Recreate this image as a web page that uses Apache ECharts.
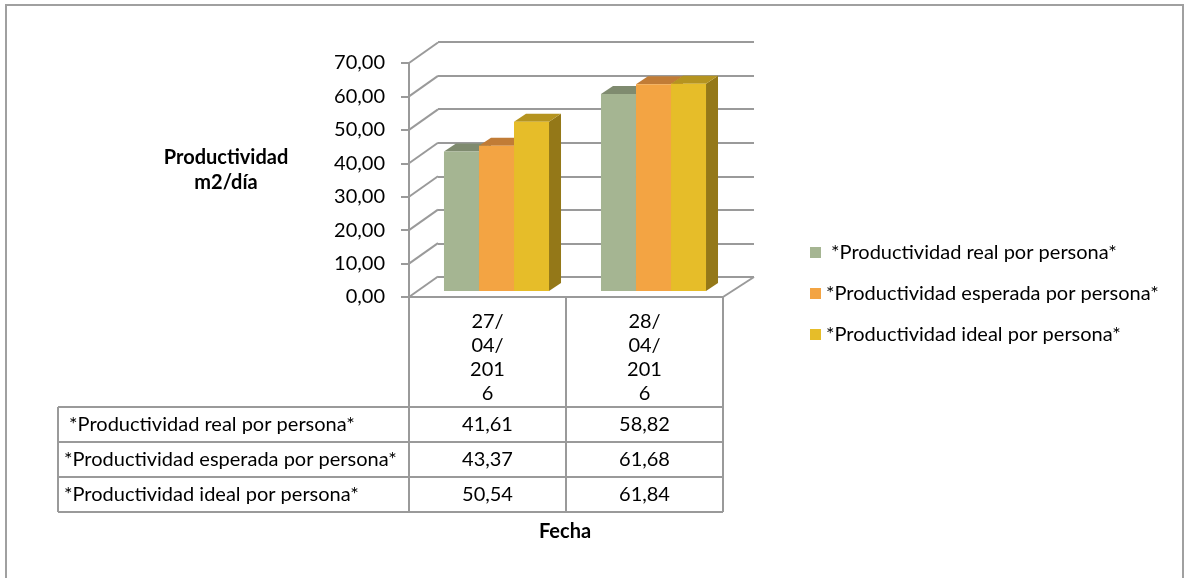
<!DOCTYPE html>
<html>
<head>
<meta charset="utf-8">
<script src="https://cdn.jsdelivr.net/npm/echarts@6/dist/echarts.min.js"></script>
<style>
  html, body { margin: 0; padding: 0; background: #fff; }
  #chart { width: 1185px; height: 578px; }
</style>
</head>
<body>
<div id="chart"></div>
<script>
// data
let categories = ["27/04/2016", "28/04/2016"];
let seriesNames = [
  " *Productividad real por persona*",
  "*Productividad esperada por persona*",
  "*Productividad ideal por persona*"
];
let realValues = [41.61, 58.82];
let expectedValues = [43.37, 61.68];
let idealValues = [50.54, 61.84];
let yTicks = [0, 10, 20, 30, 40, 50, 60, 70];

let allValues = [realValues, expectedValues, idealValues];
// front, top, side
let palette = [
  ["#A5B592", "#7F8B6F", "#6E7A5F"],
  ["#F3A443", "#C17C36", "#A86B2C"],
  ["#E6BD29", "#B59420", "#947818"]
];

let font = "Lato";
let fontSize = 20;
let gray = "#9a9a9a";

function fmt(v) {
  return v.toFixed(2).replace(".", ",");
}

let chart = echarts.init(document.getElementById("chart"));

// front plane of the axis and floor
let front = { left: 409, top: 63, width: 314, height: 234 };
// back wall
let back = { left: 438, top: 42, width: 316, height: 235 };
// plane where the bar fronts stand
let bars = { left: 418, top: 56.5, width: 314, height: 234.5 };

let depth = [12, -8];

function barRender(idx) {
  return function(params, api) {
    let cat = api.value(0);
    let val = api.value(1);
    let base = api.coord([cat, 0]);
    let top = api.coord([cat, val]);
    let band = api.size([1, 0])[0];
    let w = band * 0.223;
    let x0 = base[0] - 1.5 * w + idx * w;
    let x1 = x0 + w;
    let y0 = base[1];
    let y1 = top[1];
    let c = palette[idx];
    return {
      type: "group",
      children: [
        {
          type: "polygon",
          shape: { points: [[x1, y1], [x1 + depth[0], y1 + depth[1]], [x1 + depth[0], y0 + depth[1]], [x1, y0]] },
          style: { fill: c[2] }
        },
        {
          type: "polygon",
          shape: { points: [[x0, y1], [x0 + depth[0], y1 + depth[1]], [x1 + depth[0], y1 + depth[1]], [x1, y1]] },
          style: { fill: c[1] }
        },
        {
          type: "rect",
          shape: { x: x0, y: y1, width: w, height: y0 - y1 },
          style: { fill: c[0] }
        }
      ]
    };
  };
}

// diagonals between front axis and back wall, plus the right floor edge
let frameData = yTicks.map(function(v) { return [0, v, -1]; });
frameData.push([1, 0, 1]);

function frameRender(params, api) {
  let cat = api.value(0);
  let v = api.value(1);
  let side = api.value(2);
  let p = api.coord([cat, v]);
  let band = api.size([1, 0])[0];
  let x = p[0] + side * band / 2;
  let d = side < 0 ? [29, -20.5] : [31, -20];
  return {
    type: "line",
    shape: { x1: x, y1: p[1], x2: x + d[0], y2: p[1] + d[1] },
    style: { stroke: gray, lineWidth: 2 }
  };
}

// data table
let tableTop = 407;
let rowH = 35;
let tableLeft = 58;
let tableRight = front.left + front.width;
let colW = front.width / categories.length;

let graphics = [
  {
    type: "rect",
    shape: { x: 6, y: 5, width: 1177, height: 600 },
    style: { fill: null, stroke: "#a0a0a0", lineWidth: 2 },
    silent: true
  },
  {
    type: "text",
    style: {
      x: 226, y: 145, text: "Productividad\nm2/día", align: "center",
      font: "bold 20px " + font, lineHeight: 25, fill: "#000"
    }
  },
  {
    type: "text",
    style: {
      x: 565, y: 522, text: "Fecha", align: "center",
      font: "bold 20px " + font, fill: "#000"
    }
  },
  {
    type: "line",
    shape: { x1: tableLeft, y1: tableTop, x2: tableLeft, y2: tableTop + rowH * seriesNames.length },
    style: { stroke: gray, lineWidth: 2 }
  }
];
for (let r = 0; r <= seriesNames.length; r++) {
  graphics.push({
    type: "line",
    shape: { x1: tableLeft, y1: tableTop + r * rowH, x2: tableRight, y2: tableTop + r * rowH },
    style: { stroke: gray, lineWidth: 2 }
  });
}
seriesNames.forEach(function(name, r) {
  let cy = tableTop + r * rowH + rowH / 2;
  graphics.push({
    type: "text",
    style: { x: 64, y: cy, text: name, verticalAlign: "middle", font: fontSize + "px " + font, fill: "#000" }
  });
  allValues[r].forEach(function(v, c) {
    graphics.push({
      type: "text",
      style: {
        x: front.left + colW * (c + 0.5), y: cy, text: fmt(v),
        align: "center", verticalAlign: "middle", font: fontSize + "px " + font, fill: "#000"
      }
    });
  });
});

let series = [
  {
    type: "custom",
    name: "frame",
    xAxisIndex: 0,
    yAxisIndex: 0,
    renderItem: frameRender,
    data: frameData,
    silent: true,
    z: 1
  }
];
seriesNames.forEach(function(name, idx) {
  series.push({
    type: "custom",
    name: name,
    xAxisIndex: 2,
    yAxisIndex: 2,
    renderItem: barRender(idx),
    itemStyle: { color: palette[idx][0] },
    data: allValues[idx].map(function(v, i) { return [i, v]; }),
    z: 3
  });
});

let option = {
  animation: false,
  backgroundColor: "#fff",
  textStyle: { fontFamily: font },
  legend: {
    data: seriesNames,
    orient: "vertical",
    left: 805,
    top: 237,
    itemWidth: 11,
    itemHeight: 11,
    itemGap: 20,
    icon: "rect",
    textStyle: { fontSize: fontSize, color: "#000", fontFamily: font, lineHeight: 21 }
  },
  graphic: graphics,
  grid: [
    { left: front.left, top: front.top, width: front.width, height: front.height },
    { left: back.left, top: back.top, width: back.width, height: back.height },
    { left: bars.left, top: bars.top, width: bars.width, height: bars.height }
  ],
  xAxis: [
    {
      gridIndex: 0,
      type: "category",
      data: categories,
      axisLine: { show: true, lineStyle: { color: gray, width: 2 } },
      axisTick: { show: true, length: 215, lineStyle: { color: gray, width: 2 } },
      axisLabel: {
        color: "#000",
        fontSize: fontSize,
        fontFamily: font,
        lineHeight: 24,
        margin: 13,
        formatter: function(v) { return v.match(/.{1,3}/g).join("\n"); }
      },
      splitLine: { show: false }
    },
    { gridIndex: 1, type: "category", data: categories, show: false },
    { gridIndex: 2, type: "category", data: categories, show: false }
  ],
  yAxis: [
    {
      gridIndex: 0,
      type: "value",
      min: 0,
      max: 70,
      interval: 10,
      axisLine: { show: true, lineStyle: { color: gray, width: 2 } },
      axisTick: { show: true, length: 8, lineStyle: { color: gray, width: 2 } },
      axisLabel: { color: "#000", fontSize: fontSize, fontFamily: font, margin: 24, formatter: fmt },
      splitLine: { show: false }
    },
    {
      gridIndex: 1,
      type: "value",
      min: 0,
      max: 70,
      interval: 10,
      axisLine: { show: false },
      axisTick: { show: false },
      axisLabel: { show: false },
      splitLine: { show: true, lineStyle: { color: gray, width: 2 } }
    },
    { gridIndex: 2, type: "value", min: 0, max: 70, show: false, splitLine: { show: false } }
  ],
  series: series
};

chart.setOption(option);
</script>
</body>
</html>
